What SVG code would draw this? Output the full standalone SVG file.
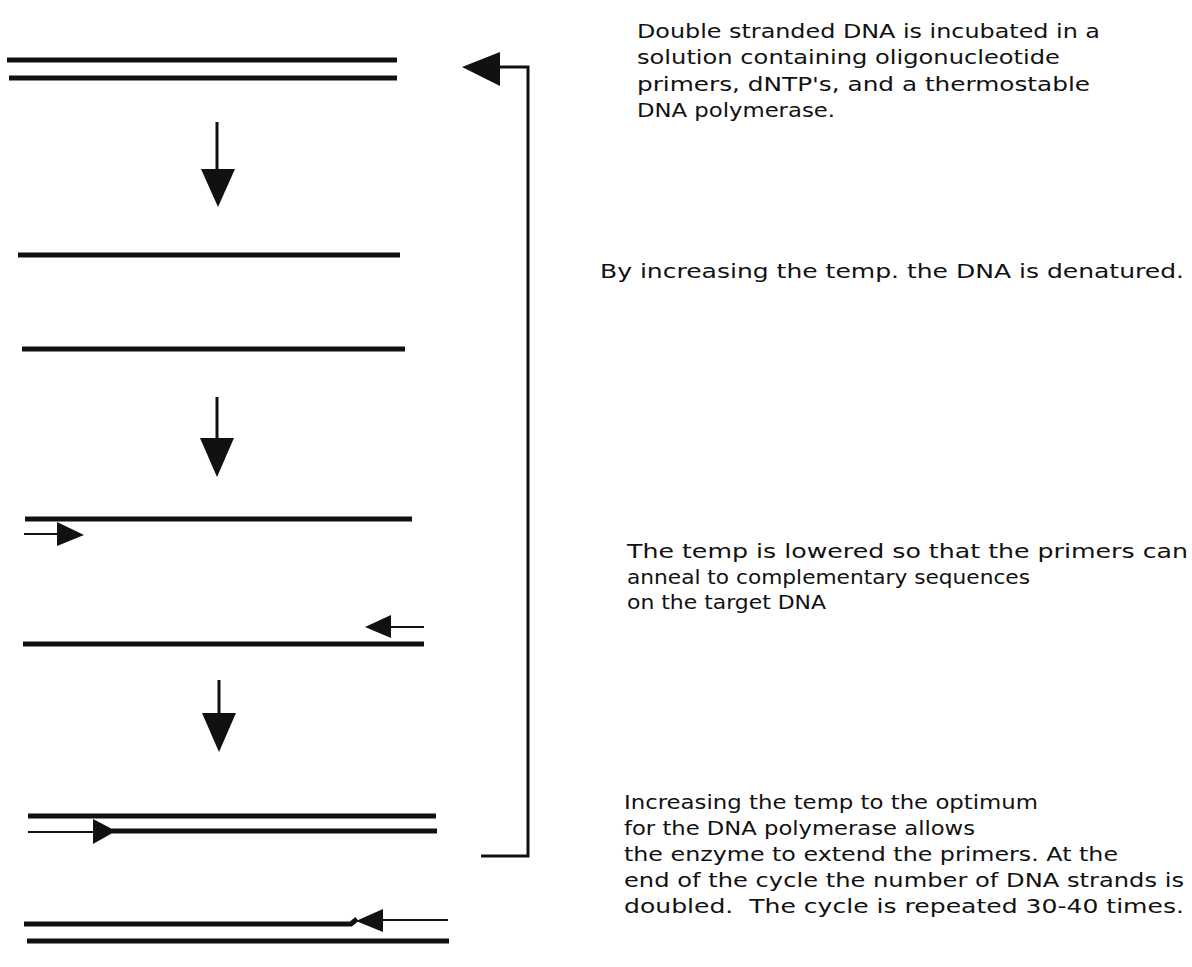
<svg xmlns="http://www.w3.org/2000/svg" width="1192" height="967" viewBox="0 0 1192 967">
  <style>
    .strand { stroke: #111; stroke-width: 5; fill: none; }
    .primer { stroke: #111; stroke-width: 2; fill: none; }
    .flow { stroke: #111; stroke-width: 3; fill: none; }
    .head { fill: #111; }
    .label { font-family: "DejaVu Sans", "Liberation Sans", sans-serif; font-size: 20px; fill: #111; }
  </style>
  <rect width="1192" height="967" fill="#fff"/>

  <!-- Stage 1: double stranded DNA -->
  <g id="stage-dsdna">
    <line class="strand" x1="7" y1="60" x2="397" y2="60"/>
    <line class="strand" x1="9" y1="78" x2="397" y2="78"/>
  </g>

  <!-- Stage 2: denatured single strands -->
  <g id="stage-denatured">
    <line class="strand" x1="18" y1="255" x2="400" y2="255"/>
    <line class="strand" x1="22" y1="349" x2="405" y2="349"/>
  </g>

  <!-- Stage 3: primers annealed -->
  <g id="stage-annealed">
    <line class="strand" x1="25" y1="519" x2="412" y2="519"/>
    <line class="primer" x1="24" y1="534" x2="60" y2="534"/>
    <polygon class="head" points="57,522 84,535 57,546"/>
    <line class="strand" x1="23" y1="644" x2="424" y2="644"/>
    <line class="primer" x1="424" y1="627" x2="388" y2="627"/>
    <polygon class="head" points="391,615 365,627 391,638"/>
  </g>

  <!-- Stage 4: primers extended -->
  <g id="stage-extended">
    <line class="strand" x1="28" y1="816" x2="436" y2="816"/>
    <line class="primer" x1="28" y1="832" x2="95" y2="832"/>
    <polygon class="head" points="93,819 116,831 93,844"/>
    <line class="strand" x1="112" y1="831" x2="437" y2="831"/>
    <polyline class="strand" points="24,924 351,924 357,919"/>
    <polygon class="head" points="383,909 356,921 383,932"/>
    <line class="primer" x1="381" y1="920" x2="448" y2="920"/>
    <line class="strand" x1="27" y1="941" x2="449" y2="941"/>
  </g>

  <!-- Connectors: step arrows and the cycle-repeat bracket -->
  <g id="connectors">
    <line class="flow" x1="217" y1="122" x2="217" y2="171"/>
    <polygon class="head" points="201,169 235,169 218,207"/>
    <line class="flow" x1="217" y1="397" x2="217" y2="440"/>
    <polygon class="head" points="200,438 234,438 217,477"/>
    <line class="flow" x1="219" y1="680" x2="219" y2="715"/>
    <polygon class="head" points="202,713 236,713 219,752"/>
    <polyline class="flow" points="481,856 528,856 528,67 497,67"/>
    <polygon class="head" points="500,52 462,67 500,86"/>
  </g>

  <!-- Step descriptions -->
  <g id="text-incubate">
    <text class="label" x="637" y="38" textLength="463" lengthAdjust="spacingAndGlyphs">Double stranded DNA is incubated in a</text>
    <text class="label" x="637" y="64" textLength="423" lengthAdjust="spacingAndGlyphs">solution containing oligonucleotide</text>
    <text class="label" x="637" y="91" textLength="453" lengthAdjust="spacingAndGlyphs">primers, dNTP's, and a thermostable</text>
    <text class="label" x="637" y="117" textLength="198" lengthAdjust="spacingAndGlyphs">DNA polymerase.</text>
  </g>
  <g id="text-denature">
    <text class="label" x="600" y="278" textLength="584" lengthAdjust="spacingAndGlyphs">By increasing the temp. the DNA is denatured.</text>
  </g>
  <g id="text-anneal">
    <text class="label" x="627" y="558" textLength="561" lengthAdjust="spacingAndGlyphs">The temp is lowered so that the primers can</text>
    <text class="label" x="627" y="584" textLength="403" lengthAdjust="spacingAndGlyphs">anneal to complementary sequences</text>
    <text class="label" x="627" y="609" textLength="199" lengthAdjust="spacingAndGlyphs">on the target DNA</text>
  </g>
  <g id="text-extend">
    <text class="label" x="624" y="809" textLength="414" lengthAdjust="spacingAndGlyphs">Increasing the temp to the optimum</text>
    <text class="label" x="624" y="835" textLength="351" lengthAdjust="spacingAndGlyphs">for the DNA polymerase allows</text>
    <text class="label" x="624" y="861" textLength="494" lengthAdjust="spacingAndGlyphs">the enzyme to extend the primers. At the</text>
    <text class="label" x="624" y="887" textLength="560" lengthAdjust="spacingAndGlyphs">end of the cycle the number of DNA strands is</text>
    <text class="label" x="624" y="913" textLength="560" lengthAdjust="spacingAndGlyphs" xml:space="preserve">doubled.  The cycle is repeated 30-40 times.</text>
  </g>
</svg>
